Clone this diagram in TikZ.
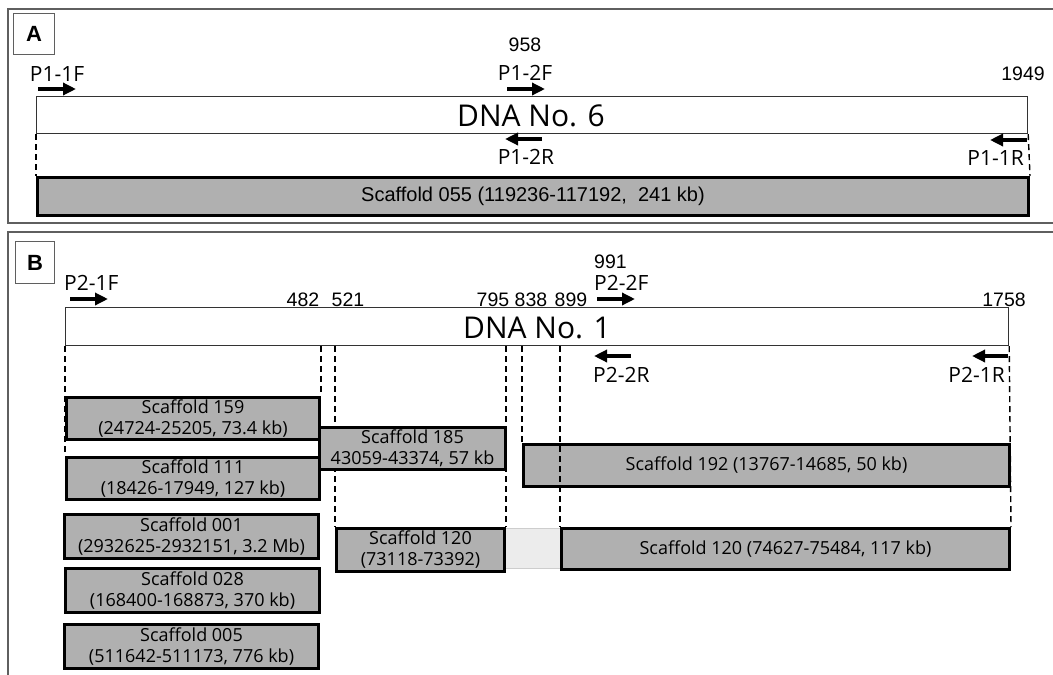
\documentclass[tikz,border=0pt]{standalone}
\usepackage{fontspec}
\newfontfamily\ms{Open Sans}
\newfontfamily\ar{Liberation Sans}
\usetikzlibrary{arrows.meta}
\pgfdeclarelayer{bg}
\pgfsetlayers{bg,main}
\definecolor{scafgray}{RGB}{176,176,176}
\definecolor{framegray}{RGB}{95,95,95}
\definecolor{gapfill}{RGB}{236,236,236}
\definecolor{gapline}{RGB}{205,205,205}
\tikzset{
  panelframe/.style={draw=framegray, line width=1.3pt},
  tagbox/.style={draw=framegray, line width=1.3pt, inner sep=0pt, anchor=north west, font=\ar\bfseries\fontsize{22}{24}\selectfont},
  dnabox/.style={draw=black!80, line width=1.2pt, fill=white, inner sep=0pt, anchor=north west},
  dnatext/.style={inner sep=0pt, font=\ms\fontsize{30}{32}\selectfont},
  scafbox/.style={draw=black, line width=3pt, fill=scafgray, inner sep=0pt, anchor=north west, align=center, font=\ms\fontsize{18}{21}\selectfont},
  scafar/.style={scafbox, font=\ar\fontsize{20}{22}\selectfont},
  gapbox/.style={fill=gapfill, draw=none, inner sep=0pt, anchor=north west},
  plabel/.style={inner sep=0pt, font=\ms\fontsize{21}{22}\selectfont},
  numlabel/.style={inner sep=0pt, font=\ar\fontsize{19.5}{21}\selectfont},
  primer/.style={line width=4pt, -{Triangle[length=13pt,width=12pt]}},
  dashline/.style={line width=1.4pt, dash pattern=on 6pt off 4pt}
}
\begin{document}
\begin{tikzpicture}[x=1pt,y=-1pt]
\useasboundingbox (0,0) rectangle (1053,675);
\begin{pgfonlayer}{bg}
\fill[white] (0,0) rectangle (1053,675);
\end{pgfonlayer}

% ---------- panel frames ----------
\draw[panelframe] (1053,9) -- (8,9) -- (8,223) -- (1053,223);
\draw[panelframe] (1053,232) -- (8,232) -- (8,675);
\node[tagbox, minimum width=41pt, minimum height=41pt] (tagA) at (13,13) {A};
\node[tagbox, minimum width=39pt, minimum height=42pt] (tagB) at (15,241) {B};

% ---------- panel A ----------
\node[dnabox, minimum width=991pt, minimum height=37pt] (dnaA) at (36,96) {};
\node[dnatext] (dnaAt) at (531,116) {DNA No. 6};
\node[scafar, minimum width=991pt, minimum height=38pt] (s055) at (36,176) {Scaffold 055 (119236-117192,\ \ 241 kb)};

\node[plabel] (p11F) at (57,74) {P1-1F};
\node[numlabel] (n958) at (525,45) {958};
\node[plabel] (p12F) at (525,73) {P1-2F};
\node[numlabel] (n1949) at (1023,74) {1949};
\node[plabel] (p12R) at (526,157) {P1-2R};
\node[plabel, anchor=east] (p11R) at (1024,158) {P1-1R};

\coordinate (a1s) at (38,89);  \coordinate (a1e) at (76,89);
\coordinate (a2s) at (507,89); \coordinate (a2e) at (545,89);
\coordinate (a3s) at (542,139); \coordinate (a3e) at (505,139);
\coordinate (a4s) at (1027,140); \coordinate (a4e) at (990,140);
\draw[primer] (a1s) -- (a1e);
\draw[primer] (a2s) -- (a2e);
\draw[primer] (a3s) -- (a3e);
\draw[primer] (a4s) -- (a4e);

% ---------- panel B ----------
\node[dnabox, minimum width=943pt, minimum height=38pt] (dnaB) at (65,307) {};
\node[dnatext] (dnaBt) at (537,328) {DNA No. 1};

\node[scafbox, minimum width=253pt, minimum height=42pt] (s159) at (65,396) {Scaffold 159\\(24724-25205, 73.4 kb)};
\node[scafbox, minimum width=253pt, minimum height=42pt] (s111) at (65,456) {Scaffold 111\\(18426-17949, 127 kb)};
\node[scafbox, minimum width=254pt, minimum height=44pt] (s001) at (63,513) {Scaffold 001\\(2932625-2932151, 3.2 Mb)};
\node[scafbox, minimum width=254pt, minimum height=44pt] (s028) at (64,567) {Scaffold 028\\(168400-168873, 370 kb)};
\node[scafbox, minimum width=254pt, minimum height=44pt] (s005) at (63,623) {Scaffold 005\\(511642-511173, 776 kb)};
\node[scafbox, minimum width=186pt, minimum height=42pt] (s185) at (318,426) {Scaffold 185\\43059-43374, 57 kb};
\node[scafbox, minimum width=486pt, minimum height=42pt] (s192) at (522,443) {Scaffold 192 (13767-14685, 50 kb)};
\node[gapbox, minimum width=57pt, minimum height=40pt] (gap) at (503,528) {};
\draw[gapline, line width=1pt] (gap.north west) -- (gap.north east);
\draw[gapline, line width=1pt] (gap.south west) -- (gap.south east);
\node[scafbox, minimum width=168pt, minimum height=43pt] (s120a) at (335,527) {Scaffold 120\\(73118-73392)};
\node[scafbox, minimum width=448pt, minimum height=41pt] (s120b) at (560,527) {Scaffold 120 (74627-75484, 117 kb)};

\node[plabel, anchor=west] (p21F) at (64,283) {P2-1F};
\node[numlabel] (n482) at (303,300) {482};
\node[numlabel] (n521) at (348,300) {521};
\node[numlabel] (n795) at (493,300) {795};
\node[numlabel] (n838) at (531,300) {838};
\node[numlabel] (n899) at (571,300) {899};
\node[numlabel, anchor=west] (n991) at (594,262) {991};
\node[plabel, anchor=west] (p22F) at (594,283) {P2-2F};
\node[numlabel] (n1758) at (1004,300) {1758};
\node[plabel, anchor=west] (p22R) at (593,375) {P2-2R};
\node[plabel, anchor=east] (p21R) at (1005,375) {P2-1R};

\coordinate (b1s) at (70,299);  \coordinate (b1e) at (108,299);
\coordinate (b2s) at (597,299); \coordinate (b2e) at (635,299);
\coordinate (b3s) at (631,356); \coordinate (b3e) at (594,356);
\coordinate (b4s) at (1008,356); \coordinate (b4e) at (972,356);
\draw[primer] (b1s) -- (b1e);
\draw[primer] (b2s) -- (b2e);
\draw[primer] (b3s) -- (b3e);
\draw[primer] (b4s) -- (b4e);

% ---------- dashed guide lines ----------
\begin{pgfonlayer}{bg}
\draw[dashline] (dnaA.south west) -- (s055.north west);
\draw[dashline] (dnaA.south east) -- (s055.north east);
\draw[dashline] (dnaB.south west) -- (s111.north west);
\draw[dashline] (dnaB.south -| s159.north east) -- (s159.north east);
\draw[dashline] (dnaB.south -| s120a.north west) -- (s120a.north west);
\draw[dashline] (dnaB.south -| s120a.north east) -- (s120a.north east);
\draw[dashline] (dnaB.south -| s192.north west) -- (s192.north west);
\draw[dashline] (dnaB.south east) -- (s120b.north east);
\end{pgfonlayer}
\draw[dashline] (dnaB.south -| s120b.north west) -- (s120b.north west);
\end{tikzpicture}
\end{document}
